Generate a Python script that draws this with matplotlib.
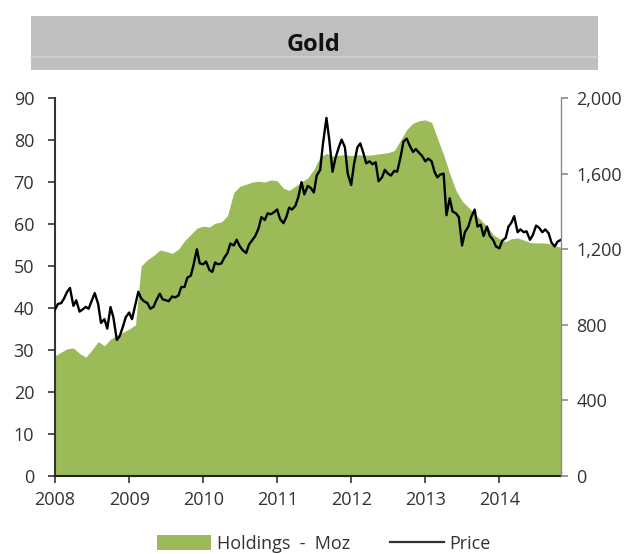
import pandas as pd
import matplotlib
matplotlib.use('Agg')
from matplotlib import pyplot as plt
from matplotlib.patches import Rectangle, Patch
from matplotlib.lines import Line2D
from matplotlib.ticker import FuncFormatter
import matplotlib.dates as mdates

plt.rcParams['font.family'] = ['Open Sans', 'DejaVu Sans']

# ETF gold holdings, million ounces, first of each month Jan 2008 - Nov 2014
holdings = [
    28.6, 29.5, 30.3, 30.5, 29.2, 28.3, 30.0, 32.0, 31.0, 32.6, 33.5, 34.2,
    35.0, 36.0, 50.0, 51.5, 52.5, 53.8, 53.5, 53.0, 54.0, 56.0, 57.5, 59.0,
    59.5, 59.3, 60.2, 60.5, 62.0, 67.5, 69.0, 69.5, 70.0, 70.2, 70.0, 70.5,
    70.3, 68.5, 68.0, 69.0, 70.0, 71.0, 73.0, 76.0, 76.8, 76.2, 76.4, 76.5,
    76.3, 76.5, 76.4, 76.4, 76.6, 76.8, 77.0, 77.5, 80.0, 82.5, 84.0, 84.6,
    84.8, 84.2, 80.5, 76.5, 72.0, 68.0, 65.5, 64.0, 62.5, 61.0, 59.5, 57.5,
    56.5, 55.8, 56.5, 56.7, 56.2, 55.6, 55.5, 55.5, 55.4, 54.8, 54.5,
]

# gold price, US$/oz, 1st and 15th of each month Jan 2008 - Nov 2014
price = [
    880, 910, 915, 940, 975, 995, 900, 930, 870, 880, 895, 885,
    930, 968, 910, 810, 830, 780, 894, 840, 720, 740, 790, 840,
    865, 830, 910, 975, 940, 925, 915, 885, 895, 930, 965, 935,
    930, 925, 950, 945, 955, 1000, 1000, 1050, 1060, 1120, 1200, 1125,
    1120, 1135, 1090, 1080, 1130, 1120, 1125, 1155, 1180, 1230, 1220, 1250,
    1215, 1195, 1180, 1225, 1250, 1270, 1310, 1370, 1355, 1390, 1385, 1395,
    1410, 1360, 1338, 1370, 1420, 1410, 1430, 1475, 1555, 1490, 1535, 1525,
    1500, 1590, 1620, 1760, 1895, 1780, 1610, 1680, 1740, 1780, 1740, 1600,
    1540, 1650, 1740, 1760, 1710, 1655, 1665, 1650, 1660, 1560, 1580, 1620,
    1600, 1590, 1615, 1610, 1690, 1770, 1785, 1750, 1715, 1730, 1710, 1695,
    1665, 1680, 1665, 1610, 1580, 1595, 1600, 1380, 1470, 1400, 1390, 1370,
    1220, 1290, 1320, 1370, 1410, 1320, 1330, 1270, 1320, 1270, 1250, 1215,
    1205, 1245, 1260, 1320, 1340, 1375, 1290, 1305, 1290, 1295, 1250, 1275,
    1325, 1315, 1290, 1305, 1285, 1235, 1215, 1240, 1250,
]

years = list(range(2008, 2015))
holdings_dates = pd.date_range('2008-01-01', periods=len(holdings), freq='MS')
price_dates = pd.date_range('2008-01-01', periods=len(price), freq='SMS')

green = '#9bbb59'
label_color = '#333333'

fig = plt.figure(figsize=(6.29, 5.54), dpi=100)

# grey banner with the title
fig.patches.append(Rectangle((0.049, 0.874), 0.902, 0.098, transform=fig.transFigure,
                             facecolor='#bfbfc1', edgecolor='none', zorder=0))
fig.lines.append(Line2D([0.049, 0.951], [0.898, 0.898], transform=fig.transFigure,
                        color='#d2d2d4', lw=1.2))
fig.text(0.498, 0.918, 'Gold', ha='center', va='center', fontsize=17,
         fontweight='bold', color='#111111')

ax = fig.add_axes([0.0874, 0.1408, 0.8045, 0.6822])
ax.fill_between(holdings_dates, holdings, 0, color=green, lw=0)
ax.set_ylim(0, 90)
ax.set_yticks(range(0, 91, 10))
ax.set_xlim(holdings_dates[0], holdings_dates[-1])
ax.set_xticks([pd.Timestamp(f'{y}-01-01') for y in years])
ax.xaxis.set_major_formatter(mdates.DateFormatter('%Y'))

ax2 = ax.twinx()
ax2.plot(price_dates, price, color='black', lw=1.7)
ax2.set_ylim(0, 2000)
ax2.set_yticks(range(0, 2001, 400))
ax2.yaxis.set_major_formatter(FuncFormatter(lambda v, p: f'{int(v):,}'))

for a in (ax, ax2):
    a.spines['top'].set_visible(False)
    a.tick_params(labelsize=13, colors=label_color, length=5, width=1.2,
                  direction='out', pad=6)
ax.tick_params(axis='y', pad=10)
ax.spines['right'].set_visible(False)
ax2.spines['left'].set_visible(False)
ax2.spines['bottom'].set_visible(False)
ax.spines['left'].set_color('#333333')
ax.spines['bottom'].set_color('#222222')
ax.spines['left'].set_linewidth(1.5)
ax.spines['bottom'].set_linewidth(1.5)
ax2.spines['right'].set_color('#8a8a8a')
ax2.spines['right'].set_linewidth(1.0)
ax2.tick_params(axis='y', color='#8a8a8a')

handles = [Patch(facecolor=green, edgecolor='none'),
           Line2D([], [], color='#333333', lw=1.6)]
fig.legend(handles, ['Holdings  -  Moz', 'Price'], loc='center',
           bbox_to_anchor=(0.515, 0.018), ncol=2, frameon=False,
           fontsize=13, handlelength=3.0, handleheight=0.9,
           handletextpad=0.3, columnspacing=2.2, labelcolor=label_color)

fig.savefig('out.png', dpi=100)
